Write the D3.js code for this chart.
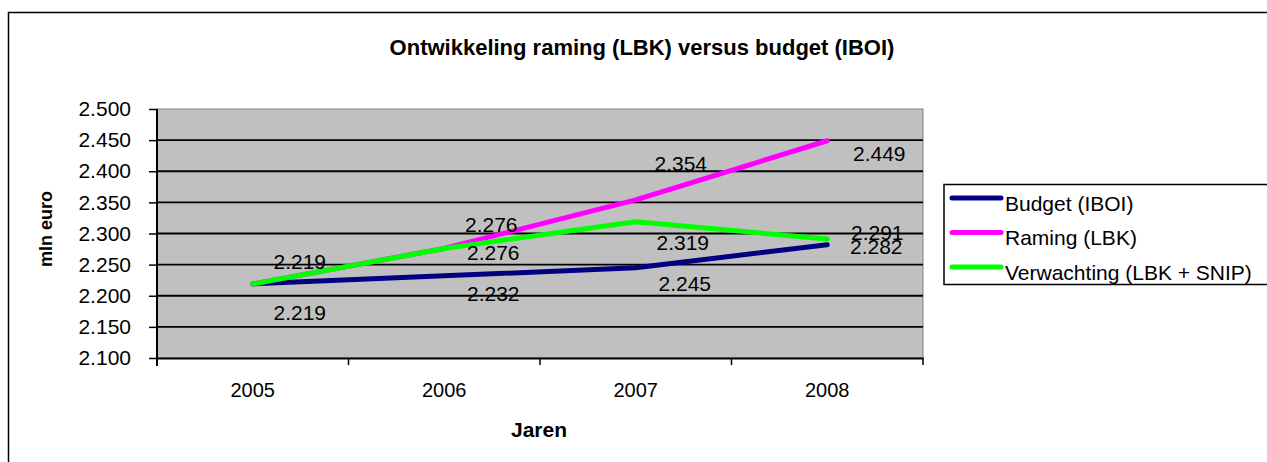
<!DOCTYPE html>
<html>
<head>
<meta charset="utf-8">
<script src="https://cdn.jsdelivr.net/npm/d3@7"></script>
<style>
  body { margin: 0; background: #fff; }
  text { font-family: "Liberation Sans", Arial, sans-serif; fill: #000; }
</style>
</head>
<body>
<svg id="chart" width="1267" height="462"></svg>
<script>
const years = ["2005", "2006", "2007", "2008"];
const budget = [2.219, 2.232, 2.245, 2.282];
const raming = [2.219, 2.276, 2.354, 2.449];
const verwachting = [2.219, 2.276, 2.319, 2.291];
const yTicks = [2.1, 2.15, 2.2, 2.25, 2.3, 2.35, 2.4, 2.45, 2.5];
const seriesNames = ["Budget (IBOI)", "Raming (LBK)", "Verwachting (LBK + SNIP)"];
const seriesColors = ["#000080", "#ff00ff", "#00ff00"];

// label nudges (px from point), hand placed like in the original sheet
// null = label hidden behind another one
const labelShift = [
  [[47, 29], [49, 18], [49, 16], [49, 2]],
  [[47, -22], [47, -24], [45, -36], [52, 13]],
  [null, [49, 4], [47, 21], [50, -7]],
];

const series = [budget, raming, verwachting].map((values, i) => ({
  name: seriesNames[i],
  color: seriesColors[i],
  values,
  shift: labelShift[i],
}));

const margin = { top: 109, left: 157 };
const width = 923 - 157;
const height = 358 - 109;
const fs = "21px";

const svg = d3.select("#chart");

// outer frame
svg.append("rect")
  .attr("x", 8.5).attr("y", 12.5)
  .attr("width", 1300).attr("height", 500)
  .attr("fill", "none").attr("stroke", "#000").attr("stroke-width", 1.5);

svg.append("text")
  .attr("x", 642).attr("y", 55)
  .attr("text-anchor", "middle")
  .style("font-size", "22px").style("font-weight", "bold")
  .text("Ontwikkeling raming (LBK) versus budget (IBOI)");

const g = svg.append("g").attr("transform", `translate(${margin.left},${margin.top})`);

const x = d3.scaleBand().domain(years).range([0, width]);
const y = d3.scaleLinear().domain([2.1, 2.5]).range([height, 0]);
const cx = (d) => x(d) + x.bandwidth() / 2;

g.append("rect")
  .attr("width", width).attr("height", height)
  .attr("fill", "#c0c0c0").attr("stroke", "#808080").attr("stroke-width", 1);

g.selectAll(".grid")
  .data(yTicks.slice(1, -1))
  .enter()
  .append("line")
  .attr("x1", 0).attr("x2", width)
  .attr("y1", (d) => y(d)).attr("y2", (d) => y(d))
  .attr("stroke", "#000").attr("stroke-width", 1.8);

const yAxis = g.append("g")
  .call(d3.axisLeft(y).tickValues(yTicks).tickSize(8).tickPadding(18)
    .tickFormat((d) => d3.format(".3f")(d)));
const xAxis = g.append("g")
  .attr("transform", `translate(0,${height})`)
  .call(d3.axisBottom(x).tickSize(0).tickPadding(25));

// category separators on x axis
g.selectAll(".xtick")
  .data(d3.range(years.length + 1))
  .enter()
  .append("line")
  .attr("x1", (i) => i * x.bandwidth()).attr("x2", (i) => i * x.bandwidth())
  .attr("y1", height).attr("y2", height + 7)
  .attr("stroke", "#000").attr("stroke-width", 1.5);

[yAxis, xAxis].forEach((a) => {
  a.select(".domain").attr("stroke", "#000").attr("stroke-width", 2);
  a.selectAll(".tick line").attr("stroke", "#000").attr("stroke-width", 1.5);
  a.selectAll("text").style("font-size", fs).style("font-family", "Liberation Sans, Arial, sans-serif");
});
xAxis.selectAll("text").style("font-size", "20px");
yAxis.select(".domain").attr("d", `M0,${height + 8}V0`);

const line = d3.line().x((d, i) => cx(years[i])).y((d) => y(d));

g.selectAll(".series")
  .data(series)
  .enter()
  .append("path")
  .attr("d", (s) => line(s.values))
  .attr("fill", "none")
  .attr("stroke", (s) => s.color)
  .attr("stroke-width", 5)
  .attr("stroke-linecap", "round")
  .attr("stroke-linejoin", "round");

series.forEach((s) => {
  const pts = s.values.map((v, i) => ({ v, i })).filter((d) => s.shift[d.i]);
  g.selectAll(null)
    .data(pts)
    .enter()
    .append("text")
    .attr("x", (d) => cx(years[d.i]) + s.shift[d.i][0])
    .attr("y", (d) => y(d.v) + s.shift[d.i][1])
    .attr("dy", "0.36em")
    .attr("text-anchor", "middle")
    .style("font-size", fs)
    .text((d) => d3.format(".3f")(d.v));
});

// axis titles
svg.append("text")
  .attr("transform", "translate(46,229) rotate(-90)")
  .attr("text-anchor", "middle").attr("dy", "0.36em")
  .style("font-size", "18px").style("font-weight", "bold")
  .text("mln euro");

svg.append("text")
  .attr("x", 539).attr("y", 437)
  .attr("text-anchor", "middle")
  .style("font-size", "21px").style("font-weight", "bold")
  .text("Jaren");

// legend
const legend = svg.append("g");
legend.append("rect")
  .attr("x", 944).attr("y", 184.5)
  .attr("width", 400).attr("height", 100)
  .attr("fill", "#fff").attr("stroke", "#000").attr("stroke-width", 1.5);

const item = legend.selectAll(".item")
  .data(series)
  .enter()
  .append("g")
  .attr("transform", (d, i) => `translate(0,${203 + i * 34.5})`);

item.append("line")
  .attr("x1", 952).attr("x2", 1001)
  .attr("y1", -5).attr("y2", -5)
  .attr("stroke", (d) => d.color).attr("stroke-width", 5)
  .attr("stroke-linecap", "round");

item.append("text")
  .attr("x", 1005).attr("dy", "0.36em")
  .style("font-size", fs)
  .text((d) => d.name);
</script>
</body>
</html>
